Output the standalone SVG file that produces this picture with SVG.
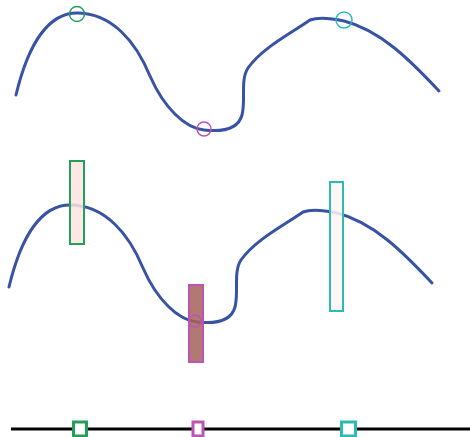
<svg xmlns="http://www.w3.org/2000/svg" width="470" height="437" viewBox="0 0 470 437">
<style>
.curve{fill:none;stroke:#3953a4;stroke-width:3;stroke-linecap:round;stroke-linejoin:round}
.g{stroke:#22a05a}
.m{stroke:#bf52b5}
.c{stroke:#2bbbb5}
.mk{fill:none;stroke-width:1.5}
.sq{fill:#fff;stroke-width:3}
.bar{stroke-width:2;fill-opacity:0.85}
</style>
<defs>
<path id="wave" d="M16,95 C28,45 48,13 77,13 C112,13 136,42 150,76 C164,108 185,128 204,130 C222,132 238,130 242,115 C246,100 240,80 248,68 C262,48 290,34 310,20 C318,17 330,18 344,21 C380,30 410,60 439,91"/>
</defs>
<rect width="470" height="437" fill="#fff"/>
<g id="connectors">
<use href="#wave" class="curve"/>
<use href="#wave" class="curve" transform="translate(-7,192)"/>
<line x1="11" y1="429" x2="470" y2="429" stroke="#000" stroke-width="3"/>
</g>
<g id="top-markers">
<circle cx="77" cy="14" r="7.5" class="mk g"/>
<circle cx="204" cy="129" r="7" class="mk m"/>
<circle cx="344" cy="20" r="8" class="mk c"/>
</g>
<g id="bars">
<rect x="70" y="161" width="14" height="83" fill="#fde4e1" class="bar g"/>
<rect x="189" y="285" width="14" height="77" fill="#a5605a" class="bar m"/>
<circle cx="195" cy="321" r="6" class="mk m"/>
<rect x="330" y="182" width="13" height="129" fill="#fff5f4" class="bar c"/>
</g>
<g id="axis-markers">
<rect x="73.5" y="422" width="13" height="14" class="sq g"/>
<rect x="193" y="422" width="10" height="14" class="sq m"/>
<rect x="341.5" y="422" width="14" height="14" class="sq c"/>
</g>
</svg>
